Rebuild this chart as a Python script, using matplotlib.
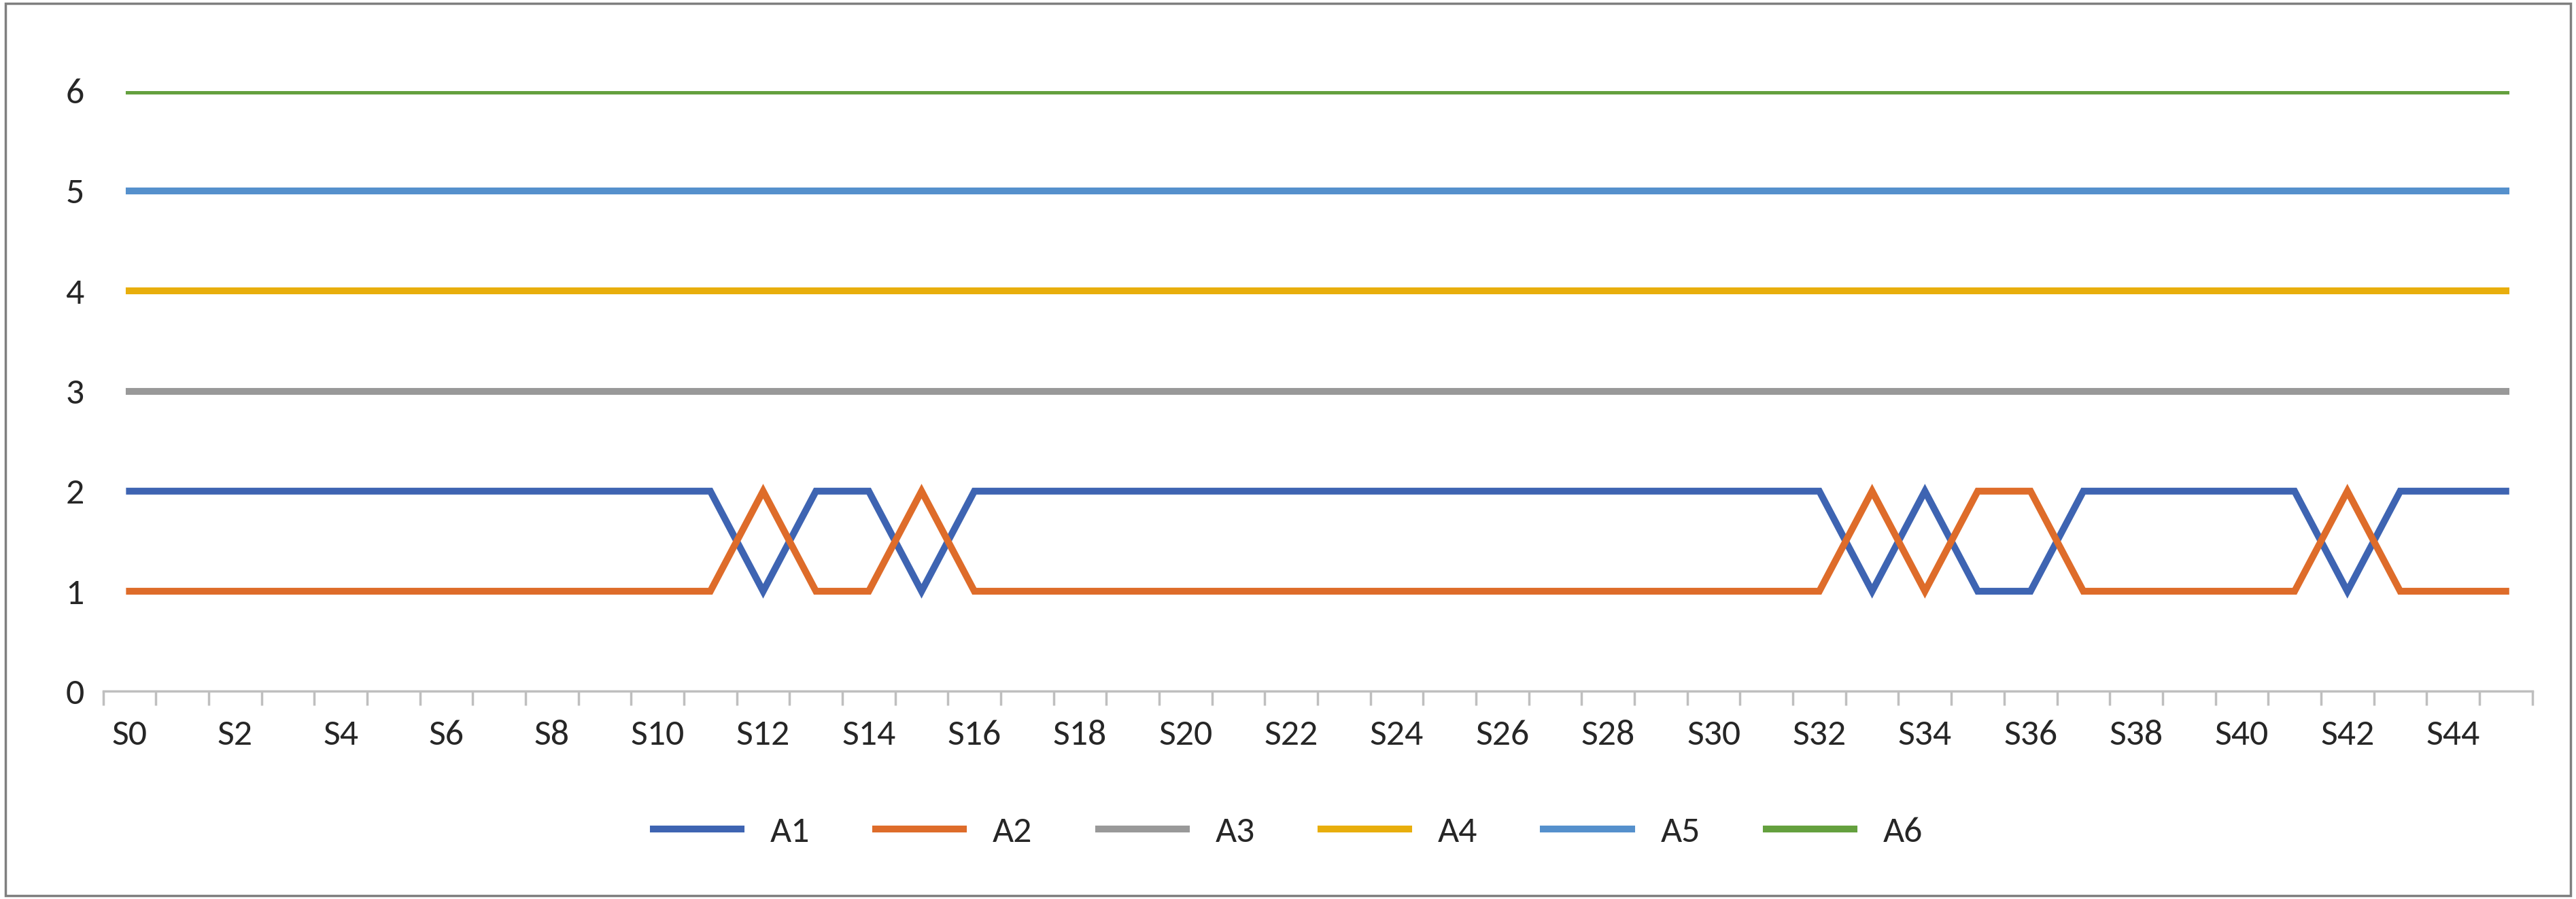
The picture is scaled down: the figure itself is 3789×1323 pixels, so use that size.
import matplotlib
matplotlib.use("Agg")
import matplotlib.pyplot as plt
from matplotlib.patches import Rectangle

categories = ["S%d" % i for i in range(46)]
a1 = [2] * 46
a2 = [1] * 46
for i in [12, 15, 33, 35, 36, 42]:
    a1[i] = 1
    a2[i] = 2
a3 = [3] * 46
a4 = [4] * 46
a5 = [5] * 46
a6 = [6] * 46
series = [("A1", a1, "#3E64B2"), ("A2", a2, "#DE6C2A"), ("A3", a3, "#999999"),
          ("A4", a4, "#E8AE0C"), ("A5", a5, "#5590CC"), ("A6", a6, "#64A03E")]

plt.rcParams['font.family'] = ['Calibri', 'Carlito', 'Liberation Sans', 'DejaVu Sans']
fig = plt.figure(figsize=(15.156, 5.292), dpi=250)
ax = fig.add_axes([0.04, 0.231, 0.943, 0.668])
x = list(range(len(categories)))
for name, vals, col in series:
    ax.plot(x, vals, color=col, lw=2.9, label=name, solid_joinstyle='miter')

ax.set_xlim(-0.5, 45.5)
ax.set_ylim(0, 6)
ax.set_yticks(range(7))
ax.set_xticks(x[::2])
ax.set_xticklabels(categories[::2])
ax.set_xticks([i - 0.5 for i in range(47)], minor=True)
ax.tick_params(axis='x', which='major', length=0, pad=12, labelsize=15.5, colors='#262626')
ax.tick_params(axis='x', which='minor', length=6, color='#BFBFBF', width=1)
ax.tick_params(axis='y', length=0, labelsize=15.5, colors='#262626', pad=8)
for s in ['top', 'right', 'left']:
    ax.spines[s].set_visible(False)
ax.spines['bottom'].set_color('#BFBFBF')
ax.spines['bottom'].set_linewidth(1)

fig.legend(loc='lower center', bbox_to_anchor=(0.5, 0.02), ncol=6, frameon=False,
           fontsize=15.5, handlelength=2.4, columnspacing=1.8, labelcolor='#262626')
fig.patches.append(Rectangle((0.002, 0.004), 0.996, 0.992, transform=fig.transFigure,
                             fill=False, edgecolor='#7F7F7F', lw=1))
fig.savefig("out.png", dpi=250)
